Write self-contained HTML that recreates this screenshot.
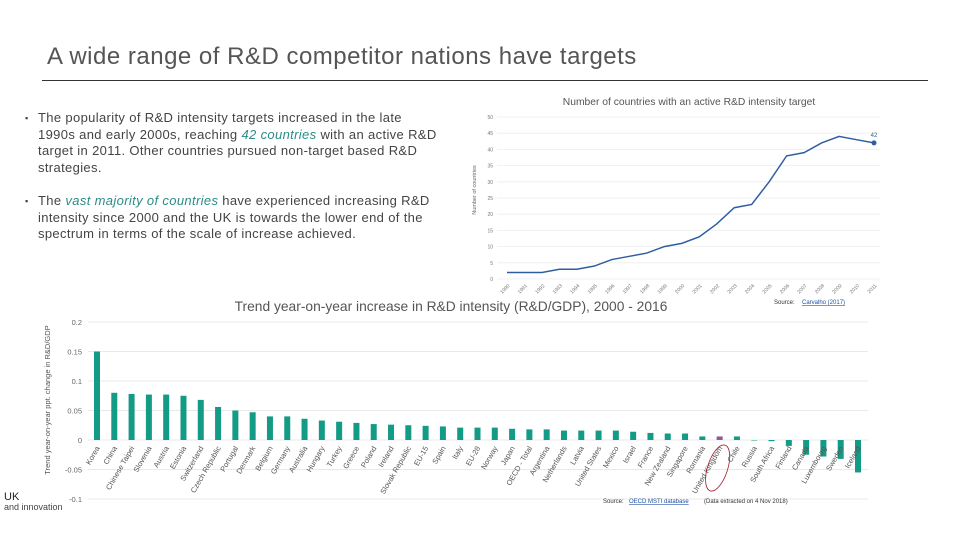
<!DOCTYPE html>
<html><head><meta charset="utf-8"><style>
body{margin:0;width:960px;height:540px;background:#fff;overflow:hidden;position:relative;font-family:"Liberation Sans",sans-serif}
#title{position:absolute;left:47px;top:43px;font-size:24px;color:#555;letter-spacing:0.5px;font-family:"Liberation Sans",sans-serif;white-space:nowrap}
#rule{position:absolute;left:42px;top:80px;width:886px;height:1px;background:#333}
.bul{position:absolute;left:25px;width:440px;font-size:13px;line-height:16.7px;color:#444;white-space:nowrap;letter-spacing:0.35px}
.bul span.d{position:absolute;left:0;top:0;font-size:9px}
.bul p{margin:0 0 0 13px}
.it{color:#2a8c86;font-style:italic}
svg{position:absolute;left:0;top:0}
</style></head><body>
<div id="title">A wide range of R&amp;D competitor nations have targets</div>
<div id="rule"></div>
<div class="bul" style="top:110px"><span class="d">▪</span><p>The popularity of R&amp;D intensity targets increased in the late<br>1990s and early 2000s, reaching <span class="it">42 countries</span> with an active R&amp;D<br>target in 2011. Other countries pursued non-target based R&amp;D<br>strategies.</p></div>
<div class="bul" style="top:193px"><span class="d">▪</span><p>The <span class="it">vast majority of countries</span> have experienced increasing R&amp;D<br>intensity since 2000 and the UK is towards the lower end of the<br>spectrum in terms of the scale of increase achieved.</p></div>
<svg id="s" width="960" height="540"></svg>
<script>
const lineYears=["1990","1991","1992","1993","1994","1995","1996","1997","1998","1999","2000","2001","2002","2003","2004","2005","2006","2007","2008","2009","2010","2011"];
const lineValues=[2,2,2,3,3,4,6,7,8,10,11,13,17,22,23,30,38,39,42,44,43,42];
const lineTicks=[0,5,10,15,20,25,30,35,40,45,50];
const barCountries=["Korea","China","Chinese Taipei","Slovenia","Austria","Estonia","Switzerland","Czech Republic","Portugal","Denmark","Belgium","Germany","Australia","Hungary","Turkey","Greece","Poland","Ireland","Slovak Republic","EU-15","Spain","Italy","EU-28","Norway","Japan","OECD - Total","Argentina","Netherlands","Latvia","United States","Mexico","Israel","France","New Zealand","Singapore","Romania","United Kingdom","Chile","Russia","South Africa","Finland","Canada","Luxembourg","Sweden","Iceland"];
const barValues=[0.15,0.08,0.078,0.077,0.077,0.075,0.068,0.056,0.05,0.047,0.04,0.04,0.036,0.033,0.031,0.029,0.027,0.026,0.025,0.024,0.023,0.021,0.021,0.021,0.019,0.018,0.018,0.016,0.016,0.016,0.016,0.014,0.012,0.011,0.011,0.006,0.006,0.006,0,-0.002,-0.01,-0.025,-0.028,-0.032,-0.055];
const barTicks=["-0.1","-0.05","0","0.05","0.1","0.15","0.2"];
const NS="http://www.w3.org/2000/svg",S=document.getElementById('s');
function mk(t,a,txt){const e=document.createElementNS(NS,t);for(const k in a)e.setAttribute(k,a[k]);if(txt!==undefined)e.textContent=txt;S.appendChild(e);return e;}
// line chart
const lx=i=>507+i*(874-507)/(lineYears.length-1), ly=v=>279-v*(279-117)/50;
let t=mk('text',{x:689,y:105,'font-size':10.3,fill:'#555','text-anchor':'middle'},'Number of countries with an active R&D intensity target');

lineTicks.forEach(v=>{let g=mk('line',{x1:497,x2:880,y1:ly(v),y2:ly(v),stroke:'#eee','stroke-width':0.8});
let l=mk('text',{x:493,y:ly(v)+2,'font-size':5,fill:'#777','text-anchor':'end'},v);});
lineYears.forEach((y,i)=>{let l=mk('text',{x:lx(i)+3,y:286,'font-size':5,fill:'#777','text-anchor':'end',transform:`rotate(-45 ${lx(i)+3} 286)`},y);});
t=mk('text',{x:476,y:190,'font-size':5.5,fill:'#666','text-anchor':'middle',transform:'rotate(-90 476 190)'},'Number of countries');
let p=mk('polyline',{points:lineValues.map((v,i)=>lx(i)+','+ly(v)).join(' '),fill:'none',stroke:'#2e5fa0','stroke-width':1.5});
const li=lineValues.length-1;
let c=mk('circle',{cx:lx(li),cy:ly(lineValues[li]),r:2.5,fill:'#2e5fa0'});
t=mk('text',{x:lx(li),y:ly(lineValues[li])-6,'font-size':6,fill:'#2e5fa0','text-anchor':'middle'},lineValues[li]);
t=mk('text',{x:774,y:304,'font-size':6,fill:'#333'},'Source: ');
t=mk('text',{x:802,y:304,'font-size':6,fill:'#1f4fa0','text-decoration':'underline'},'Carvalho (2017)');
// bar chart
const by=v=>440-v*(440-322)/0.2, bx=i=>97+i*(858-97)/(barCountries.length-1);
t=mk('text',{x:451,y:311,'font-size':13.8,fill:'#555','text-anchor':'middle'},'Trend year-on-year  increase in R&D intensity (R&D/GDP), 2000 - 2016');
barTicks.forEach(s=>{const v=parseFloat(s);let g=mk('line',{x1:88,x2:868,y1:by(v),y2:by(v),stroke:'#e2e2e2','stroke-width':0.8});
let l=mk('text',{x:82,y:by(v)+3,'font-size':7.5,fill:'#666','text-anchor':'end'},s);});
t=mk('text',{x:50,y:400,'font-size':7.5,fill:'#555','text-anchor':'middle',transform:'rotate(-90 50 400)'},'Trend year-on-year ppt. change in R&D/GDP');
barValues.forEach((v,i)=>{const y0=by(Math.max(v,0)),h=Math.max(Math.abs(by(v)-by(0)),0.5);
let r=mk('rect',{x:bx(i)-3,y:y0,width:6,height:h,fill:barCountries[i]==='United Kingdom'?'#8e5a9a':'#139b86'});
let l=mk('text',{x:bx(i)+3,y:448,'font-size':7.5,fill:'#555','text-anchor':'end',transform:`rotate(-60 ${bx(i)+3} 448)`},barCountries[i]);});
const ui=barCountries.indexOf('United Kingdom');
let e=mk('ellipse',{cx:bx(ui)-2,cy:468,rx:10,ry:24,fill:'none',stroke:'#a02030','stroke-width':0.8,transform:`rotate(18 ${bx(ui)-2} 468)`});
t=mk('text',{x:603,y:503,'font-size':6,fill:'#333'},'Source: ');
t=mk('text',{x:629,y:503,'font-size':6,fill:'#1f4fa0','text-decoration':'underline'},'OECD MSTI database');
t=mk('text',{x:704,y:503,'font-size':6,fill:'#333'},'(Data extracted on 4 Nov 2018)');
t=mk('text',{x:4,y:500,'font-size':11,fill:'#222'},'UK');
t=mk('text',{x:4,y:510,'font-size':9,fill:'#444'},'and innovation');
</script>
</body></html>
